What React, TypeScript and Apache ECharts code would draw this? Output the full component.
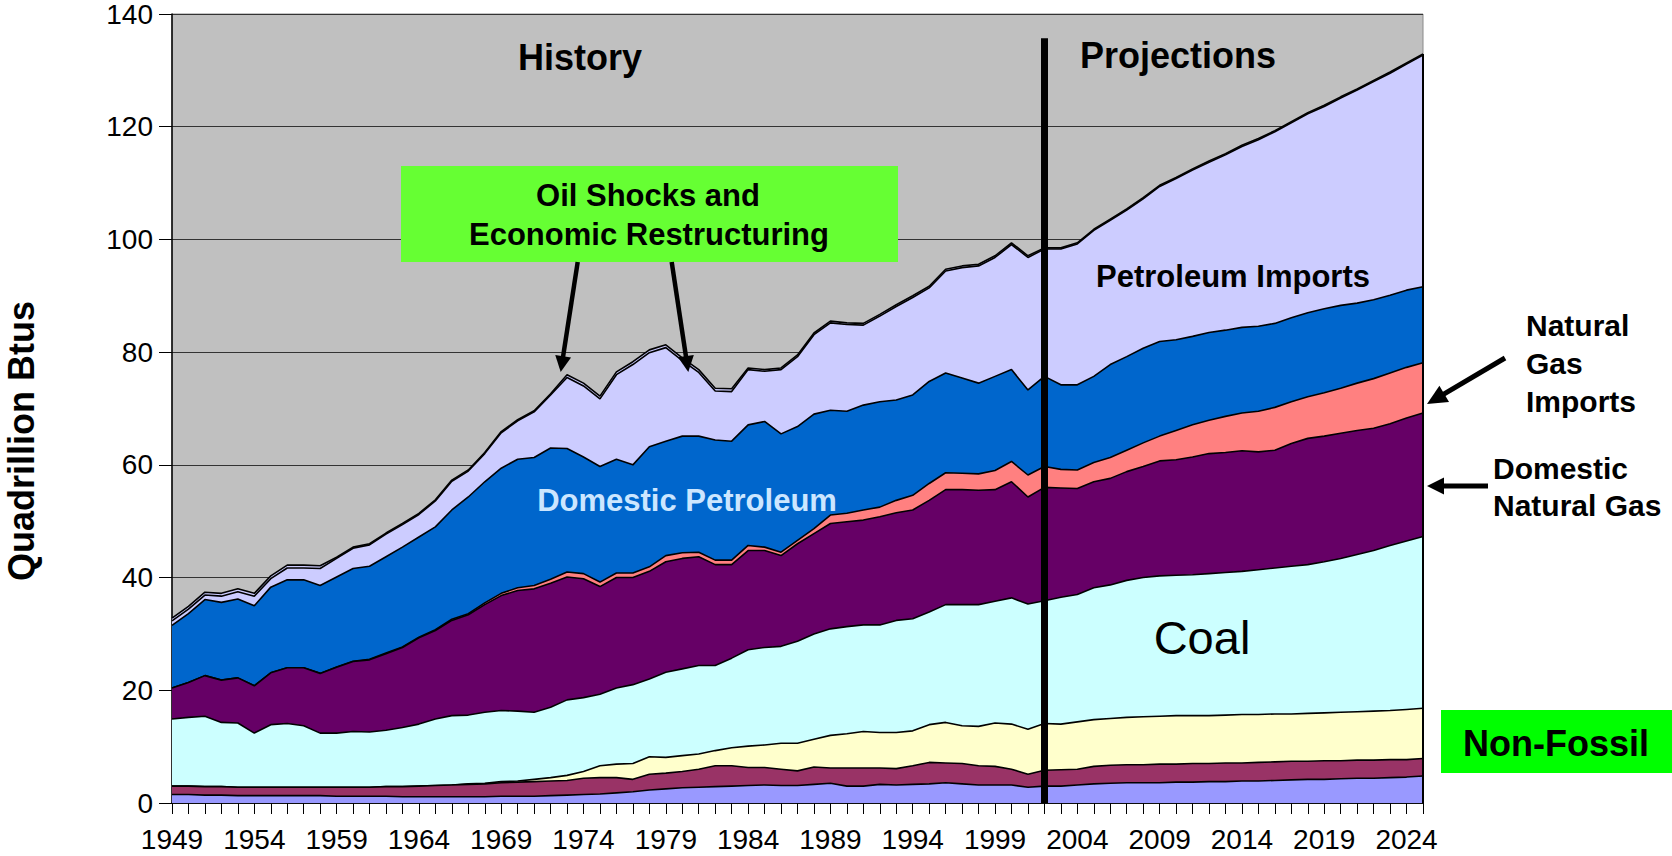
import React, { useEffect, useRef } from "react";
import * as echarts from "echarts";

// ---------- data ----------
const years: string[] = [];
for (let y = 1949; y <= 2025; y++) years.push(String(y));

// Non-fossil: bottom band (periwinkle)
const hydroOther = [
  1.5, 1.5, 1.4, 1.4, 1.3, 1.3, 1.3, 1.3, 1.3, 1.3,
  1.2, 1.2, 1.2, 1.2, 1.1, 1.1, 1.1, 1.1, 1.1, 1.1,
  1.2, 1.2, 1.2, 1.3, 1.4, 1.5, 1.6, 1.8, 2.0, 2.3,
  2.5, 2.7, 2.8, 2.9, 3.0, 3.1, 3.2, 3.1, 3.1, 3.3,
  3.5, 3.0, 3.0, 3.3, 3.2, 3.3, 3.4, 3.6, 3.4, 3.2,
  3.2, 3.2, 2.8, 3.0, 3.0, 3.2, 3.4, 3.5, 3.6, 3.6,
  3.6, 3.7, 3.7, 3.8, 3.8, 3.9, 3.9, 4.0, 4.1, 4.2,
  4.2, 4.3, 4.4, 4.4, 4.5, 4.6, 4.8,
];
// Non-fossil: second band (maroon)
const biomass = [
  1.5, 1.5, 1.5, 1.5, 1.5, 1.5, 1.5, 1.5, 1.5, 1.5,
  1.6, 1.6, 1.6, 1.7, 1.8, 1.9, 2.0, 2.1, 2.2, 2.3,
  2.4, 2.5, 2.6, 2.6, 2.6, 2.9, 2.9, 2.7, 2.2, 2.8,
  2.8, 2.9, 3.2, 3.7, 3.6, 3.2, 3.1, 2.9, 2.6, 3.1,
  2.7, 3.2, 3.2, 2.9, 2.9, 3.3, 3.8, 3.5, 3.6, 3.4,
  3.3, 2.8, 2.3, 2.8, 2.9, 2.8, 3.1, 3.2, 3.2, 3.2,
  3.3, 3.2, 3.3, 3.2, 3.3, 3.2, 3.3, 3.3, 3.3, 3.2,
  3.3, 3.2, 3.2, 3.2, 3.2, 3.1, 3.1,
];
// Non-fossil: third band (light yellow)
const nuclear = [
  0, 0, 0, 0, 0, 0, 0, 0, 0, 0,
  0, 0, 0, 0, 0, 0, 0, 0, 0.1, 0.1,
  0.2, 0.2, 0.4, 0.6, 0.9, 1.2, 2.1, 2.4, 2.8, 3.1,
  2.8, 2.8, 2.7, 2.7, 3.2, 3.8, 4.0, 4.6, 4.9, 4.9,
  5.8, 6.1, 6.5, 6.3, 6.4, 6.2, 6.7, 7.2, 6.7, 7.0,
  7.7, 8.0, 8.0, 8.3, 8.1, 8.4, 8.3, 8.3, 8.4, 8.5,
  8.5, 8.6, 8.5, 8.5, 8.5, 8.6, 8.5, 8.5, 8.4, 8.5,
  8.5, 8.6, 8.6, 8.7, 8.7, 8.9, 8.9,
];
const coal = [
  11.9, 12.2, 12.5, 11.4, 11.4, 9.6, 11.1, 11.3, 10.9, 9.6,
  9.6, 9.9, 9.8, 10.0, 10.5, 11.0, 11.8, 12.3, 12.2, 12.6,
  12.6, 12.4, 11.9, 12.5, 13.4, 13.1, 12.7, 13.5, 14.0, 13.8,
  15.1, 15.4, 15.7, 15.1, 15.9, 17.1, 17.3, 17.2, 18.1, 18.7,
  18.9, 19.0, 18.9, 19.1, 19.9, 19.9, 20.0, 20.9, 21.5, 21.6,
  21.6, 22.4, 22.2, 21.8, 22.5, 22.6, 23.4, 23.7, 24.3, 24.7,
  24.9, 24.9, 25.0, 25.2, 25.3, 25.4, 25.7, 25.9, 26.2, 26.4,
  26.8, 27.3, 27.9, 28.5, 29.3, 29.9, 30.5,
];
const domesticGas = [
  5.5, 6.2, 7.2, 7.5, 8.0, 8.4, 9.2, 9.9, 10.3, 10.6,
  11.7, 12.4, 12.8, 13.6, 14.2, 15.3, 15.7, 16.9, 17.8, 19.1,
  20.4, 21.4, 21.9, 22.0, 21.8, 21.1, 19.1, 19.6, 19.0, 19.1,
  19.6, 19.6, 19.3, 17.9, 16.6, 17.6, 17.2, 16.1, 17.3, 17.8,
  18.7, 18.6, 18.6, 19.2, 19.1, 19.3, 19.8, 20.4, 20.4, 20.3,
  19.8, 20.6, 19.0, 20.1, 19.4, 18.8, 18.8, 18.9, 19.3, 19.7,
  20.4, 20.5, 20.9, 21.3, 21.3, 21.4, 20.9, 20.9, 21.8, 22.4,
  22.3, 22.2, 22.0, 21.7, 21.6, 21.8, 21.9,
];
const gasImports = [
  0, 0, 0, 0, 0, 0, 0, 0, 0, 0,
  0.05, 0.05, 0.1, 0.1, 0.1, 0.1, 0.15, 0.2, 0.2, 0.3,
  0.4, 0.5, 0.6, 0.7, 0.9, 0.9, 0.8, 0.8, 0.8, 0.8,
  1.1, 1.0, 0.8, 0.8, 0.8, 0.9, 0.6, 0.6, 0.6, 0.9,
  1.5, 1.5, 1.8, 1.7, 2.2, 2.6, 3.0, 3.0, 2.9, 2.9,
  3.4, 3.6, 3.9, 3.7, 3.3, 3.3, 3.4, 3.7, 3.8, 4.2,
  4.4, 5.2, 5.7, 5.9, 6.4, 6.7, 7.2, 7.6, 7.4, 7.4,
  7.7, 8.0, 8.4, 8.8, 9.0, 9.0, 8.9,
];
const domesticPetroleum = [
  11.1, 12.2, 13.5, 13.8, 14.0, 14.2, 15.2, 15.6, 15.6, 15.6,
  15.95, 16.45, 16.5, 17.1, 17.7, 17.8, 18.25, 19.4, 20.7, 21.5,
  22.2, 22.8, 22.7, 23.3, 21.9, 20.7, 20.5, 20.2, 19.2, 21.3,
  20.3, 20.7, 20.6, 21.3, 21.1, 21.4, 22.3, 21.0, 20.2, 20.3,
  18.6, 18.1, 18.6, 18.7, 17.8, 17.8, 18.1, 17.7, 16.9, 16.1,
  16.7, 16.3, 15.1, 16.0, 15.0, 15.1, 15.3, 16.5, 16.6, 16.8,
  16.8, 16.1, 15.7, 15.6, 15.3, 15.2, 15.1, 14.9, 14.9, 14.9,
  14.9, 14.7, 14.2, 14.0, 13.8, 13.7, 13.5,
];
const petroleumImports = [
  0.8, 0.8, 0.8, 1.1, 1.3, 1.7, 1.5, 2.1, 2.1, 3.0,
  3.3, 3.6, 3.8, 4.0, 4.0, 4.0, 4.6, 5.1, 4.6, 5.0,
  6.3, 6.8, 8.1, 9.4, 12.6, 12.6, 12.0, 15.0, 17.8, 16.7,
  16.6, 13.4, 11.3, 8.7, 8.8, 9.8, 8.9, 11.4, 12.4, 14.1,
  15.5, 15.4, 14.2, 15.2, 16.6, 17.3, 16.6, 18.1, 19.6, 20.8,
  21.1, 22.2, 23.5, 22.6, 24.1, 25.0, 25.9, 25.6, 26.0, 26.5,
  27.5, 28.6, 29.5, 30.2, 31.1, 32.1, 33.1, 34.0, 34.6, 35.3,
  35.9, 36.8, 37.8, 38.7, 39.4, 40.1, 41.1,
];
// thin band on top of the stack
const otherNet = [
  0.5, 0.5, 0.5, 0.5, 0.5, 0.5, 0.5, 0.5, 0.5, 0.5,
  0.2, 0.2, 0.2, 0.2, 0.2, 0.2, 0.2, 0.2, 0.2, 0.2,
  0.2, 0.2, 0.2, 0.2, 0.5, 0.5, 0.5, 0.5, 0.5, 0.5,
  0.5, 0.5, 0.5, 0.5, 0.5, 0.3, 0.3, 0.3, 0.3, 0.3,
  0.3, 0.3, 0.3, 0.3, 0.3, 0.3, 0.3, 0.3, 0.3, 0.3,
  0.3, 0.3, 0.3, 0.2, 0.2, 0.2, 0.2, 0.2, 0.2, 0.2,
  0.2, 0.2, 0.2, 0.2, 0.2, 0.2, 0.2, 0.2, 0.2, 0.2,
  0.2, 0.2, 0.2, 0.2, 0.2, 0.2, 0.2,
];

const yTicks = { min: 0, max: 140, interval: 20 };
const projectionStart = "2002";

const layers = [
  { name: "Hydro / Other Renewables", data: hydroOther, color: "#9999ff" },
  { name: "Biomass", data: biomass, color: "#993366" },
  { name: "Nuclear", data: nuclear, color: "#ffffcc" },
  { name: "Coal", data: coal, color: "#ccffff" },
  { name: "Domestic Natural Gas", data: domesticGas, color: "#660066" },
  { name: "Natural Gas Imports", data: gasImports, color: "#ff8080" },
  { name: "Domestic Petroleum", data: domesticPetroleum, color: "#0066cc" },
  { name: "Petroleum Imports", data: petroleumImports, color: "#ccccff" },
  { name: "Other", data: otherNet, color: "#ccccff" },
];

const FONT = 'Arial, "Liberation Sans", Helvetica, sans-serif';

function arrow(x1: number, y1: number, x2: number, y2: number, w: number, hl: number, hw: number) {
  const dx = x2 - x1;
  const dy = y2 - y1;
  const len = Math.hypot(dx, dy);
  const ux = dx / len;
  const uy = dy / len;
  const bx = x2 - ux * hl;
  const by = y2 - uy * hl;
  const px = -uy;
  const py = ux;
  return [
    { type: "line", z: 100, shape: { x1, y1, x2: bx + ux * 2, y2: by + uy * 2 }, style: { stroke: "#000", lineWidth: w } },
    {
      type: "polygon",
      z: 100,
      shape: { points: [[x2, y2], [bx + (px * hw) / 2, by + (py * hw) / 2], [bx - (px * hw) / 2, by - (py * hw) / 2]] },
      style: { fill: "#000" },
    },
  ];
}

function txt(text: string, x: number, y: number, size: number, opts: any = {}) {
  const align = opts.align || "center";
  return {
    type: "text",
    z: 100,
    x,
    y,
    rotation: opts.rotation || 0,
    style: {
      text,
      font: `${opts.weight || "bold"} ${size}px ${FONT}`,
      fill: opts.fill || "#000",
      align,
      verticalAlign: "middle",
      textAlign: align,
      textVerticalAlign: "middle",
    },
  };
}

export default function App() {
  const ref = useRef<HTMLDivElement>(null);

  useEffect(() => {
    document.body.style.margin = "0";
    if (!ref.current) return;
    const chart = echarts.init(ref.current, null, { renderer: "svg", width: 1672, height: 856 });

    const last = years.length - 1;
    const totalLast = layers.reduce((s, l) => s + l.data[last], 0);

    const series: any[] = layers.map((l, i) => ({
      name: l.name,
      type: "line",
      stack: "energy",
      data: l.data,
      symbol: "none",
      showSymbol: false,
      silent: true,
      z: 3 - i * 0.1,
      lineStyle: { color: "#000", width: 1.6 },
      areaStyle: { color: l.color, opacity: 1 },
      emphasis: { disabled: true },
    }));

    series[0].markLine = {
      silent: true,
      z: 10,
      symbol: ["none", "none"],
      label: { show: false },
      data: [
        [
          { coord: [projectionStart, 135.7], lineStyle: { color: "#000", width: 7, type: "solid" } },
          { coord: [projectionStart, 0] },
        ],
        [
          { coord: [years[last], 0], lineStyle: { color: "#000", width: 2, type: "solid" } },
          { coord: [years[last], totalLast] },
        ],
      ],
    };

    const graphics: any[] = [
      txt("History", 580, 57, 36),
      txt("Projections", 1178, 55, 36),
      { type: "rect", z: 99, shape: { x: 401, y: 166, width: 497, height: 96 }, style: { fill: "#66ff33" } },
      txt("Oil Shocks and", 648, 195, 31),
      txt("Economic Restructuring", 649, 234, 31),
      ...arrow(577.7, 262, 560.7, 372, 4.5, 16, 16),
      ...arrow(671.7, 262, 688.3, 372, 4.5, 16, 16),
      txt("Petroleum Imports", 1233, 276, 31),
      txt("Domestic Petroleum", 687, 500, 31, { fill: "#cce6ff" }),
      txt("Coal", 1202, 637, 47, { weight: "normal" }),
      { type: "rect", z: 99, shape: { x: 1441, y: 710, width: 240, height: 63 }, style: { fill: "#00ff00" } },
      txt("Non-Fossil", 1556, 743, 36),
      txt("Natural", 1526, 325, 30, { align: "left" }),
      txt("Gas", 1526, 363, 30, { align: "left" }),
      txt("Imports", 1526, 401, 30, { align: "left" }),
      ...arrow(1505, 358, 1427, 404, 5, 20, 19),
      txt("Domestic", 1493, 468, 30, { align: "left" }),
      txt("Natural Gas", 1493, 505, 30, { align: "left" }),
      ...arrow(1488, 486, 1427, 486, 5, 17, 17),
      txt("Quadrillion Btus", 21, 441, 36, { rotation: Math.PI / 2 }),
    ];

    chart.setOption({
      animation: false,
      backgroundColor: "#ffffff",
      grid: {
        left: 172,
        right: 249,
        top: 13.5,
        bottom: 53,
        show: true,
        backgroundColor: "#c0c0c0",
        borderColor: "#8a8a8a",
        borderWidth: 1,
      },
      xAxis: {
        type: "category",
        data: years,
        boundaryGap: false,
        axisLine: { show: true, lineStyle: { color: "#000", width: 1.5 } },
        axisTick: { show: true, interval: 0, length: 11, lineStyle: { color: "#000", width: 1 } },
        axisLabel: { interval: 4, fontSize: 28, color: "#000", fontFamily: FONT, margin: 22 },
        splitLine: { show: false },
      },
      yAxis: {
        type: "value",
        min: yTicks.min,
        max: yTicks.max,
        interval: yTicks.interval,
        axisLine: { show: true, lineStyle: { color: "#000", width: 1.5 } },
        axisTick: { show: true, length: 13, lineStyle: { color: "#000", width: 1 } },
        axisLabel: { fontSize: 28, color: "#000", fontFamily: FONT, margin: 19 },
        splitLine: { show: true, lineStyle: { color: "#333", width: 1 } },
      },
      series,
      graphic: { elements: graphics },
    });

    return () => {
      chart.dispose();
    };
  }, []);

  return <div ref={ref} style={{ position: "absolute", left: 0, top: 0, width: 1672, height: 856 }} />;
}
